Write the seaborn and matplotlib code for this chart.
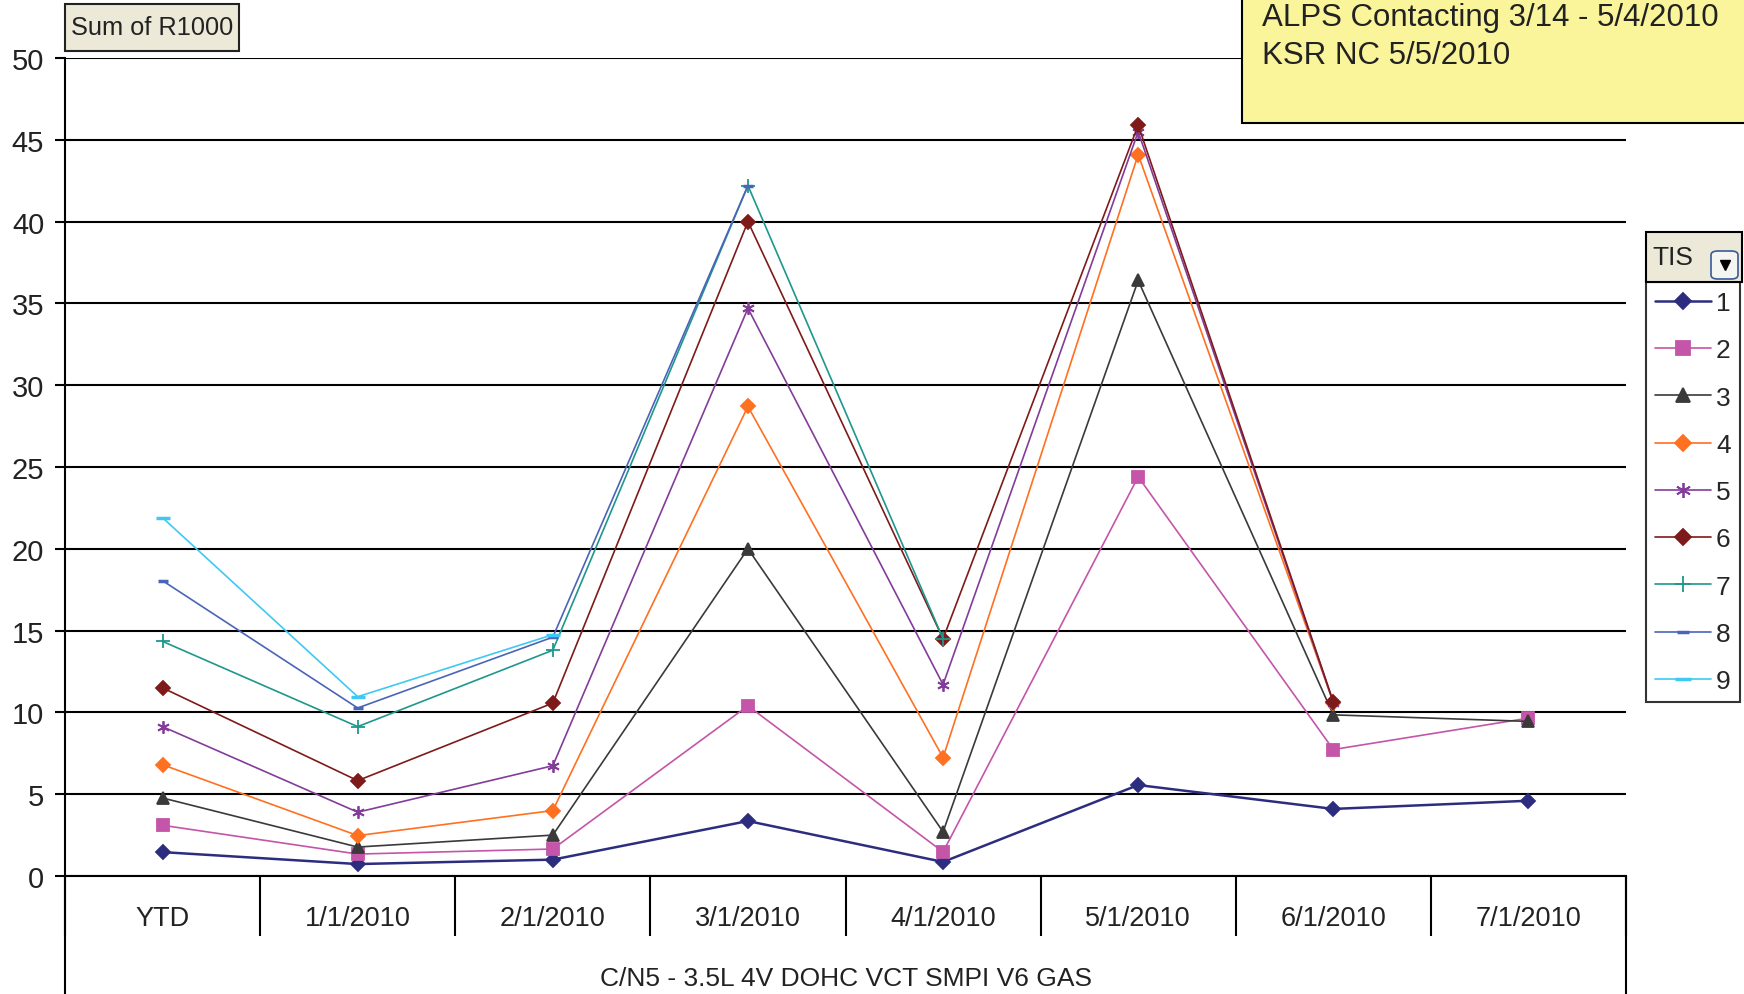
import pandas as pd
import numpy as np
import matplotlib.pyplot as plt
import seaborn as sns
from matplotlib.lines import Line2D
from matplotlib.patches import Rectangle, FancyBboxPatch

# ==== DATA ====
months = ['YTD', '1/1/2010', '2/1/2010', '3/1/2010', '4/1/2010', '5/1/2010', '6/1/2010', '7/1/2010']

tis_1 = [1.46, 0.73, 1.0, 3.36, 0.86, 5.56, 4.1, 4.6]
tis_2 = [3.1, 1.34, 1.65, 10.4, 1.47, 24.4, 7.73, 9.65]
tis_3 = [4.77, 1.77, 2.5, 20.0, 2.7, 36.4, 9.85, 9.45]
tis_4 = [6.8, 2.47, 4.0, 28.7, 7.24, 44.1, 10.6]
tis_5 = [9.13, 3.9, 6.74, 34.7, 11.7, 45.5, 10.6]
tis_6 = [11.5, 5.83, 10.57, 40.0, 14.5, 45.9, 10.65]
tis_7 = [14.34, 9.13, 13.8, 42.2, 14.5]
tis_8 = [18.05, 10.27, 14.6, 42.2]
tis_9 = [21.9, 10.96, 14.75]

series = {'1': tis_1, '2': tis_2, '3': tis_3, '4': tis_4, '5': tis_5,
          '6': tis_6, '7': tis_7, '8': tis_8, '9': tis_9}

colors = {'1': '#2D2D80', '2': '#C455A8', '3': '#3A3A3A', '4': '#FF7020', '5': '#833C9A',
          '6': '#7E1A1A', '7': '#1E978C', '8': '#4A64B8', '9': '#40C8F4'}
markers = {'1': 'D', '2': 's', '3': '^', '4': 'D', '5': (6, 2, 0),
           '6': 'D', '7': '+', '8': '_', '9': '_'}
msize = {'1': 7, '2': 8, '3': 8, '4': 7, '5': 9, '6': 7, '7': 10, '8': 7, '9': 10}

# ==== FIGURE ====
sns.set_style('white')
plt.rcParams['font.family'] = ['Liberation Sans Narrow', 'Liberation Sans', 'DejaVu Sans']

W, H = 1744, 995
def fx(x):
    return x / W
def fy(y):
    return 1 - y / H

fig = plt.figure(figsize=(W / 100, H / 100), dpi=100)
ax = fig.add_axes([fx(65), fy(877), (1626 - 65) / W, (877 - 59) / H])

for name, vals in series.items():
    d = pd.DataFrame({'pos': range(len(vals)), 'value': vals})
    sns.lineplot(data=d, x='pos', y='value', color=colors[name], marker=markers[name],
                 markersize=msize[name], markeredgewidth=2.5 if name in ('8', '9') else 1.3,
                 markeredgecolor=colors[name], linewidth=1.8 if name == '1' else 1.2,
                 label=name, ax=ax)

ax.set_xlim(-0.5, 7.5)
ax.set_ylim(0, 50)
ax.set_yticks(np.arange(0, 51, 5))
ax.yaxis.grid(True, color='black', linewidth=1.5)
ax.set_axisbelow(True)
for s in ['top', 'right']:
    ax.spines[s].set_visible(False)
for s in ['left', 'bottom']:
    ax.spines[s].set_linewidth(1.5)
    ax.spines[s].set_color('black')

ax.set_xticks(range(len(months)))
ax.set_xticklabels(months)
ax.set_xticks(np.arange(-0.5, 8, 1), minor=True)
ax.tick_params(axis='x', which='major', length=0, pad=21, labelsize=19.5, labelcolor='#222222')
ax.tick_params(axis='x', which='minor', length=43, width=1.5, direction='out', color='black', bottom=True)
ax.tick_params(axis='y', length=7, width=1.5, direction='out', color='black', pad=8,
               labelsize=21, labelcolor='#222222', left=True)

ax.set_xlabel('C/N5 - 3.5L 4V DOHC VCT SMPI V6 GAS', fontsize=19, color='#222222')
ax.xaxis.label.set_va('center')
ax.xaxis.set_label_coords(0.5, -102 / 818)
ax.set_ylabel('')

# frame lines running down past the category boxes
fig.add_artist(Line2D([fx(65), fx(65)], [fy(877), fy(1000)], color='black', lw=1.5))
fig.add_artist(Line2D([fx(1626), fx(1626)], [fy(877), fy(1000)], color='black', lw=1.5))

# ==== LEGEND ====
handles, labels = ax.get_legend_handles_labels()
leg = ax.legend(handles, labels, loc='upper left', bbox_to_anchor=(fx(1646), fy(283)),
                bbox_transform=fig.transFigure, frameon=True, fancybox=False, edgecolor='black',
                fontsize=19, handlelength=2.1, handletextpad=0.2, labelspacing=0.88,
                borderpad=0.35, borderaxespad=0, markerscale=1.2)
leg.get_frame().set_linewidth(1.5)

# "TIS" header with dropdown button
fig.add_artist(Rectangle((fx(1646), fy(283)), 96 / W, 50 / H, transform=fig.transFigure,
                         facecolor='#ECE9D8', edgecolor='black', lw=1.5))
fig.text(fx(1652), fy(258), 'TIS', fontsize=19, va='center', ha='left', color='#222222')
fig.add_artist(FancyBboxPatch((fx(1711), fy(280)), 27 / W, 28 / H, transform=fig.transFigure,
                              boxstyle='round,pad=0,rounding_size=0.004',
                              facecolor='#F4F4F0', edgecolor='#3A5A9A', lw=1.2))
fig.add_artist(Line2D([fx(1724.5)], [fy(266)], marker='v', markersize=7, color='black',
                      transform=fig.transFigure))

# ==== ANNOTATIONS ====
fig.add_artist(Rectangle((fx(65), fy(52)), 174 / W, 47 / H, transform=fig.transFigure,
                         facecolor='#ECE9D8', edgecolor='#222222', lw=1.5))
fig.text(fx(152), fy(28), 'Sum of R1000', fontsize=18.3, ha='center', va='center', color='#222222')

fig.add_artist(Rectangle((fx(1242), fy(124)), 520 / W, 136 / H, transform=fig.transFigure,
                         facecolor='#FAF59B', edgecolor='black', lw=1.5))
fig.text(fx(1262), fy(18), 'ALPS Contacting 3/14 - 5/4/2010', fontsize=22.5, ha='left',
         va='center', family=['Liberation Sans', 'DejaVu Sans'], color='#222222')
fig.text(fx(1262), fy(56), 'KSR NC 5/5/2010', fontsize=22.5, ha='left',
         va='center', family=['Liberation Sans', 'DejaVu Sans'], color='#222222')

plt.savefig('out.png', dpi=100)
